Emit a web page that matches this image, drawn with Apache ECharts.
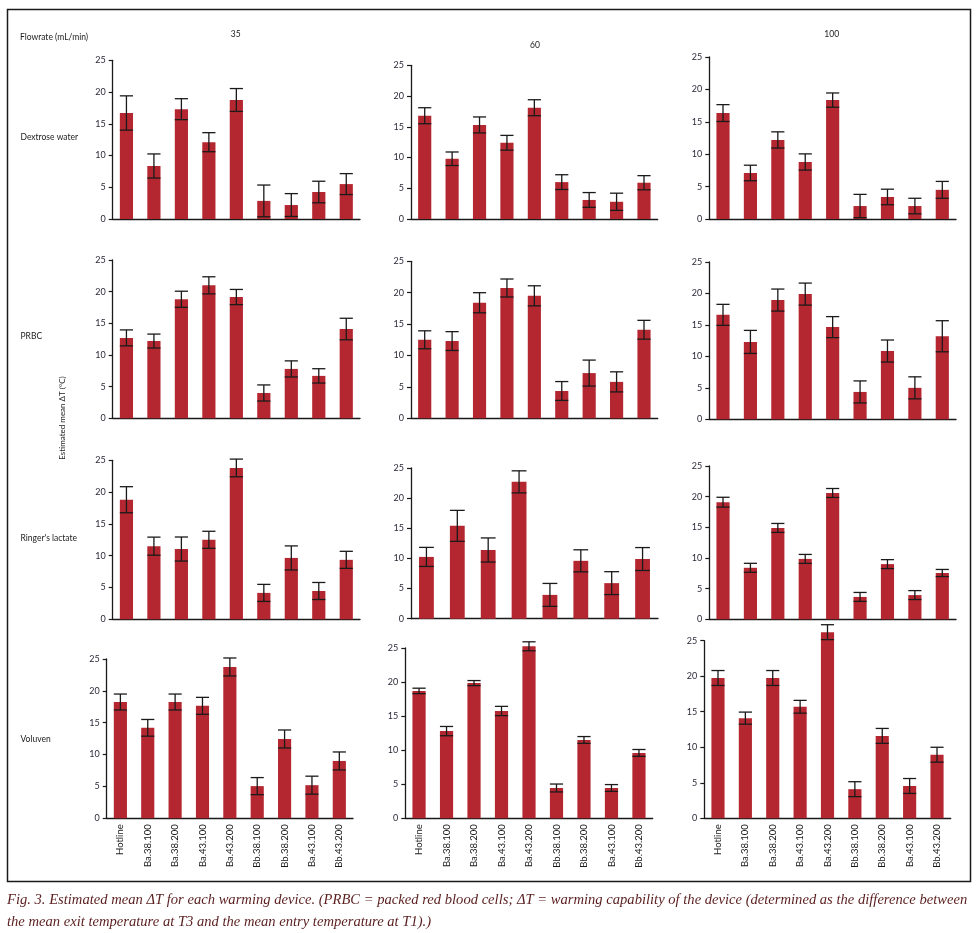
<!DOCTYPE html>
<html>
<head>
<meta charset="utf-8">
<script src="https://cdn.jsdelivr.net/npm/echarts@6/dist/echarts.min.js"></script>
<style>
html,body{margin:0;padding:0;background:#fff;}
#chart{width:980px;height:933px;}
</style>
</head>
<body>
<div id="chart"></div>
<script>
// ---- data ----
const categories = ['Hotline','Ba.38.100','Ba.38.200','Ba.43.100','Ba.43.200','Bb.38.100','Bb.38.200','Ba.43.100','Bb.43.200'];
const categoriesNoHotline = ['Ba.38.100','Ba.38.200','Ba.43.100','Ba.43.200','Bb.38.100','Bb.38.200','Ba.43.100','Bb.43.200'];
const flowrates = ['35','60','100'];
const fluids = ['Dextrose water','PRBC',"Ringer's lactate",'Voluven'];
const yTicks = [0,5,10,15,20,25];

const dextrose35Mean = [16.7,8.35,17.3,12.1,18.75,2.85,2.2,4.25,5.5];
const dextrose35Err  = [2.7,1.9,1.65,1.5,1.8,2.5,1.8,1.7,1.65];
const dextrose60Mean = [16.8,9.8,15.3,12.4,18.1,6.0,3.1,2.8,5.9];
const dextrose60Err  = [1.3,1.1,1.3,1.2,1.3,1.2,1.2,1.4,1.15];
const dextrose100Mean = [16.35,7.1,12.2,8.8,18.35,2.0,3.4,2.0,4.5];
const dextrose100Err  = [1.3,1.2,1.25,1.25,1.1,1.8,1.2,1.2,1.3];

const prbc35Mean = [12.7,12.2,18.8,21.0,19.15,4.0,7.8,6.7,14.1];
const prbc35Err  = [1.26,1.1,1.27,1.35,1.2,1.27,1.27,1.13,1.7];
const prbc60Mean = [12.5,12.3,18.4,20.75,19.5,4.35,7.2,5.8,14.1];
const prbc60Err  = [1.43,1.5,1.6,1.43,1.6,1.5,2.07,1.6,1.5];
const prbc100Mean = [16.6,12.3,18.95,19.9,14.65,4.35,10.85,5.0,13.2];
const prbc100Err  = [1.67,1.83,1.75,1.75,1.67,1.75,1.75,1.75,2.47];

const ringer35Mean = [18.8,11.5,11.05,12.5,23.8,4.15,9.65,4.45,9.35];
const ringer35Err  = [2.05,1.42,1.89,1.34,1.39,1.34,1.89,1.34,1.34];
const ringer60Mean = [10.25,15.4,11.4,22.7,3.95,9.6,5.9,9.9];
const ringer60Err  = [1.58,2.57,2.0,1.83,1.9,1.83,1.9,1.9];
const ringer100Mean = [19.1,8.4,14.9,9.85,20.6,3.65,9.0,3.95,7.55];
const ringer100Err  = [0.8,0.73,0.73,0.73,0.73,0.73,0.73,0.73,0.58];

const voluven35Mean = [18.25,14.2,18.25,17.65,23.75,5.05,12.45,5.2,9.0];
const voluven35Err  = [1.25,1.31,1.25,1.33,1.41,1.34,1.41,1.41,1.41];
const voluven60Mean = [18.7,12.8,19.85,15.75,25.25,4.45,11.5,4.45,9.6];
const voluven60Err  = [0.4,0.68,0.37,0.68,0.66,0.58,0.5,0.5,0.5];
const voluven100Mean = [19.75,14.1,19.75,15.7,26.2,4.1,11.6,4.55,8.95];
const voluven100Err  = [1.05,0.85,1.05,0.9,1.05,1.05,1.05,1.05,1.05];

const panelData = [
  [[categories,dextrose35Mean,dextrose35Err],[categories,dextrose60Mean,dextrose60Err],[categories,dextrose100Mean,dextrose100Err]],
  [[categories,prbc35Mean,prbc35Err],[categories,prbc60Mean,prbc60Err],[categories,prbc100Mean,prbc100Err]],
  [[categories,ringer35Mean,ringer35Err],[categoriesNoHotline,ringer60Mean,ringer60Err],[categories,ringer100Mean,ringer100Err]],
  [[categories,voluven35Mean,voluven35Err],[categories,voluven60Mean,voluven60Err],[categories,voluven100Mean,voluven100Err]]
];

// ---- layout (pixel boxes: left, top(=25), bottom(=0), right) ----
const boxes = [
  [[112.7,60.3,219,360],[411,65.3,219,657.7],[709.3,57,219,956]],
  [[112.7,260,418.3,360],[411,261.3,418.3,657.7],[709.3,262,419.3,956]],
  [[112.7,460.3,619.3,360],[411,468,618.7,658],[709.3,466,619.3,956]],
  [[106.7,659,818.3,353],[405.3,648,818.3,652.7],[704.3,640.7,818.3,950.7]]
];
const titlePos = [[235.7,34],[535,45],[831.7,34]];
const rowLabelY = [137,336,538,739];

const FONT = 'Lato, "Noto Sans", sans-serif';
const BAR = '#b52730';
const INK = '#1a1a1a';

const grids=[], xAxes=[], yAxes=[], series=[];
let gi = 0;
for (let r=0;r<4;r++){
  for (let c=0;c<3;c++){
    const [l,t,b,rt] = boxes[r][c];
    const [cats, means, errs] = panelData[r][c];
    grids.push({left:l, top:t, width:rt-l, height:b-t, containLabel:false});
    xAxes.push({
      type:'category', gridIndex:gi, data:cats,
      axisLine:{show:true, lineStyle:{color:INK, width:1.3}},
      axisTick:{show:false},
      axisLabel:{show:r===3, rotate:90, margin:6, fontSize:9.5, color:INK, fontFamily:FONT, interval:0}
    });
    yAxes.push({
      type:'value', gridIndex:gi, min:yTicks[0], max:yTicks[yTicks.length-1], interval:yTicks[1]-yTicks[0],
      axisLine:{show:true, lineStyle:{color:INK, width:1.3}},
      axisTick:{show:true, length:4, lineStyle:{color:INK, width:1.2}},
      splitLine:{show:false},
      axisLabel:{margin:7, fontSize:9, color:'#2a2a3a', fontFamily:FONT}
    });
    series.push({
      type:'bar', xAxisIndex:gi, yAxisIndex:gi, data:means, barWidth:'48%', z:2,
      itemStyle:{color:BAR}, clip:false, silent:true, animation:false
    });
    series.push({
      type:'custom', xAxisIndex:gi, yAxisIndex:gi, clip:false, silent:true, animation:false, z:10,
      encode:{x:0, y:[1,2]},
      data: means.map((m,i)=>[i, m+errs[i], m-errs[i]]),
      renderItem:(params, api)=>{
        const hi = api.coord([api.value(0), api.value(1)]);
        const lo = api.coord([api.value(0), api.value(2)]);
        const half = api.size([1,0])[0]*0.24;
        const st = {stroke:INK, lineWidth:1.3};
        return {type:'group', children:[
          {type:'line', shape:{x1:hi[0],y1:hi[1],x2:lo[0],y2:lo[1]}, style:st},
          {type:'line', shape:{x1:hi[0]-half,y1:hi[1],x2:hi[0]+half,y2:hi[1]}, style:st},
          {type:'line', shape:{x1:lo[0]-half,y1:lo[1],x2:lo[0]+half,y2:lo[1]}, style:st}
        ]};
      }
    });
    gi++;
  }
}

const CAP_FONT = 'italic 14.6px "Liberation Serif", serif';
const graphics = [
  {type:'rect', shape:{x:7.5,y:9.5,width:963,height:872}, style:{fill:'none', stroke:INK, lineWidth:1.5}, silent:true},
  {type:'text', left:20, top:33, style:{text:'Flowrate (mL/min)', font:'8.5px '+FONT, fill:'#222'}},
  {type:'text', x:62, y:418, rotation:Math.PI/2, style:{text:'Estimated mean \u0394T (\u00b0C)', font:'8px '+FONT, fill:'#222', textAlign:'center', textVerticalAlign:'middle'}},
  {type:'text', x:7, y:900, style:{text:'Fig. 3. Estimated mean \u0394T for each warming device. (PRBC = packed red blood cells; \u0394T = warming capability of the device (determined as the difference between', font:CAP_FONT, fill:'#5a1e1e', textVerticalAlign:'middle'}},
  {type:'text', x:7, y:922, style:{text:'the mean exit temperature at T3 and the mean entry temperature at T1).)', font:CAP_FONT, fill:'#5a1e1e', textVerticalAlign:'middle'}}
];
flowrates.forEach((f,i)=>{
  graphics.push({type:'text', x:titlePos[i][0], y:titlePos[i][1], style:{text:f, font:'8.5px '+FONT, fill:'#222', textAlign:'center', textVerticalAlign:'middle'}});
});
fluids.forEach((f,i)=>{
  graphics.push({type:'text', x:20.5, y:rowLabelY[i], style:{text:f, font:'8.5px '+FONT, fill:'#222', textAlign:'left', textVerticalAlign:'middle'}});
});

const chart = echarts.init(document.getElementById('chart'), null, {renderer:'canvas'});
chart.setOption({
  animation:false,
  backgroundColor:'#fff',
  grid:grids, xAxis:xAxes, yAxis:yAxes, series:series,
  graphic:graphics
});
</script>
</body>
</html>
